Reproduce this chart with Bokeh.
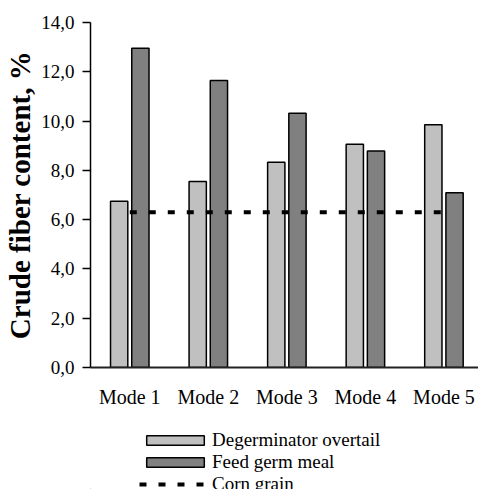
import numpy as np
from bokeh.plotting import figure
from bokeh.layouts import column
from bokeh.models import Range1d, FixedTicker, Legend, LegendItem, ColumnDataSource
from bokeh.embed import file_html
from bokeh.resources import INLINE

modes = ["Mode 1", "Mode 2", "Mode 3", "Mode 4", "Mode 5"]
degerminator_overtail = [6.75, 7.55, 8.33, 9.06, 9.85]
feed_germ_meal = [12.96, 11.65, 10.32, 8.79, 7.09]
corn_grain = [6.3, 6.3, 6.3, 6.3, 6.3]
y_ticks = [0, 2, 4, 6, 8, 10, 12, 14]
y_tick_labels = ["0,0", "2,0", "4,0", "6,0", "8,0", "10,0", "12,0", "14,0"]
series_names = ["Degerminator overtail", "Feed germ meal", "Corn grain"]

FONT = "Liberation Serif"
LIGHT = "#c0c0c0"
DARK = "#808080"

x = np.arange(len(modes)) + 0.5
src = ColumnDataSource(dict(
    xl=x - 0.135, xd=x + 0.135, x=x,
    deg=degerminator_overtail, feed=feed_germ_meal, corn=corn_grain,
))

p = figure(width=478, height=429, output_backend="svg", toolbar_location=None,
           x_range=Range1d(0, 4.94), y_range=Range1d(0, 14),
           min_border_left=90, min_border_right=0, min_border_top=22, min_border_bottom=62)
p.outline_line_color = None
p.grid.visible = False

bar_style = dict(width=0.22, line_color="black", line_width=1.5)
line_style = dict(line_color="black", line_width=4, line_dash="7 12", line_cap="butt")

p.vbar(x="xl", top="deg", source=src, fill_color=LIGHT, **bar_style)
p.vbar(x="xd", top="feed", source=src, fill_color=DARK, **bar_style)
p.line(x="x", y="corn", source=src, **line_style)

# y axis
ya = p.yaxis[0]
ya.ticker = FixedTicker(ticks=y_ticks)
ya.major_label_overrides = {t: l for t, l in zip(y_ticks, y_tick_labels)}
ya.major_tick_out = 8
ya.major_tick_in = 0
ya.minor_tick_out = 0
ya.minor_tick_in = 0
ya.major_tick_line_width = 1.5
ya.axis_line_width = 1.5
ya.axis_line_color = "black"
ya.major_tick_line_color = "black"
ya.major_label_text_font = FONT
ya.major_label_text_font_size = "19px"
ya.major_label_text_color = "black"
ya.major_label_standoff = 8
ya.axis_label = "Crude fiber content, %"
ya.axis_label_text_font = FONT
ya.axis_label_text_font_style = "bold"
ya.axis_label_text_font_size = "29px"
ya.axis_label_text_color = "black"
ya.axis_label_standoff = 2

# x axis
xa = p.xaxis[0]
xa.ticker = FixedTicker(ticks=list(x))
xa.major_label_overrides = {float(v): m for v, m in zip(x, modes)}
xa.major_tick_out = 0
xa.major_tick_in = 0
xa.minor_tick_out = 0
xa.minor_tick_in = 0
xa.axis_line_width = 2
xa.axis_line_color = "#222222"
xa.major_label_text_font = FONT
xa.major_label_text_font_size = "20px"
xa.major_label_text_color = "black"
xa.major_label_standoff = 18

# legend strip below the chart (its renderers sit outside its visible range)
p2 = figure(width=478, height=60, output_backend="svg", toolbar_location=None,
            x_range=Range1d(0, 1), y_range=Range1d(0, 1),
            x_axis_type=None, y_axis_type=None,
            min_border_left=90, min_border_right=0, min_border_top=0, min_border_bottom=0)
p2.outline_line_color = None
p2.grid.visible = False
g1 = p2.vbar(x=[-10], top=[-5], fill_color=LIGHT, **bar_style)
g2 = p2.vbar(x=[-10], top=[-5], fill_color=DARK, **bar_style)
g3 = p2.line(x=[-10, -9], y=[-5, -5], **line_style)

legend = Legend(items=[
    LegendItem(label=series_names[0], renderers=[g1]),
    LegendItem(label=series_names[1], renderers=[g2]),
    LegendItem(label=series_names[2], renderers=[g3]),
], location=(49, -6))
legend.glyph_width = 72
legend.glyph_height = 12
legend.label_height = 22
legend.label_standoff = 1
legend.spacing = 0
legend.padding = 0
legend.margin = 0
legend.border_line_color = None
legend.background_fill_alpha = 0
legend.label_text_font = FONT
legend.label_text_font_size = "19px"
legend.label_text_color = "black"
p2.add_layout(legend, "center")

layout = column(p, p2, spacing=0)
open("out.html", "w").write(file_html(layout, INLINE))
